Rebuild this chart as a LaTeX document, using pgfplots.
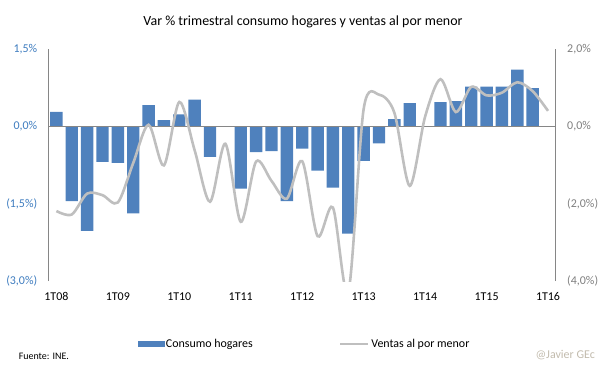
\documentclass[border=0pt]{standalone}
\usepackage{fontspec}
\setmainfont{Carlito}
\usepackage{pgfplots}
\usepackage{pgfplotstable}
\pgfplotsset{compat=1.18}
\definecolor{barblue}{HTML}{4F81BD}
\definecolor{linegray}{HTML}{BFBFBF}
\definecolor{axisgray}{HTML}{868686}
\definecolor{leftlbl}{HTML}{3E7CBF}
\definecolor{rightlbl}{HTML}{7F7F7F}
\definecolor{credit}{HTML}{C2BBAD}

\pgfplotstableread{
idx cons
0 0.28
1 -1.45
2 -2.03
3 -0.69
4 -0.71
5 -1.69
6 0.41
7 0.12
8 0.23
9 0.52
10 -0.59
11 0.00
12 -1.21
13 -0.50
14 -0.48
15 -1.45
16 -0.43
17 -0.86
18 -1.19
19 -2.08
20 -0.67
21 -0.33
22 0.14
23 0.45
24 0.00
25 0.47
26 0.49
27 0.77
28 0.77
29 0.77
30 1.10
31 0.74
}\constable

\pgfplotstableread{
idx ventas
0 -2.19
1 -2.28
2 -1.74
3 -1.78
4 -1.97
5 -0.95
6 0.04
7 -1.01
8 0.63
9 -0.62
10 -1.95
11 -0.45
12 -2.47
13 -0.91
14 -1.41
15 -1.87
16 -0.90
17 -2.84
18 -2.10
19 -4.30
20 0.45
21 0.82
22 0.35
23 -1.54
24 0.25
25 1.22
26 0.37
27 1.02
28 0.80
29 0.87
30 1.14
31 0.91
32 0.40
}\ventastable

\begin{document}
\begin{tikzpicture}[x=1bp,y=1bp]
\path[use as bounding box] (0,0) rectangle (605,378);
\begin{axis}[
  at={(48.7bp,97bp)}, anchor=south west,
  scale only axis, width=507bp, height=232bp,
  xmin=-0.5, xmax=32.5, ymin=-3, ymax=1.5,
  axis y line*=left, axis x line*=bottom,
  x axis line style={draw=none},
  y axis line style={draw=axisgray, line width=0.8bp},
  major tick length=0pt,
  ytick={-3,-1.5,0,1.5},
  yticklabels={{(3,0\%)},{(1,5\%)},{0,0\%},{1,5\%}},
  yticklabel style={text=leftlbl, font=\fontsize{12}{14}\selectfont, xshift=-8bp},
  xtick={0,4,...,32},
  xticklabels={1T08,1T09,1T10,1T11,1T12,1T13,1T14,1T15,1T16},
  xticklabel style={font=\fontsize{12}{14}\selectfont, yshift=-8bp},
  /pgf/number format/assume math mode=true,
  ybar, bar width=12.4bp,
]
\addplot[fill=barblue, draw=none] table[x=idx,y=cons]{\constable};
\draw[axisgray, line width=0.8bp] (axis cs:-0.5,0) -- (axis cs:32.5,0);
\end{axis}
\begin{axis}[
  at={(48.7bp,97bp)}, anchor=south west,
  scale only axis, width=507bp, height=232bp,
  xmin=-0.5, xmax=32.5, ymin=-4, ymax=2,
  axis y line*=right, hide x axis,
  y axis line style={draw=axisgray, line width=0.8bp},
  major tick length=0pt,
  ytick={-4,-2,0,2},
  yticklabels={{(4,0\%)},{(2,0\%)},{0,0\%},{2,0\%}},
  yticklabel style={text=rightlbl, font=\fontsize{12}{14}\selectfont, xshift=8bp},
  legend style={at={(0.5045,-0.2716)}, anchor=center, draw=none, fill=none,
    font=\fontsize{12}{14}\selectfont,
    /tikz/every even column/.append style={column sep=84bp}},
  legend columns=2, legend cell align=left,
]
\addlegendimage{legend image code/.code={\fill[barblue] (0bp,-2.5bp) rectangle (26bp,2.5bp);}}
\addlegendentry{Consumo hogares}
\addplot[linegray, line width=2.6bp, smooth, no markers,
  legend image code/.code={\draw[linegray, line width=2.6bp] (0bp,0bp) -- (28bp,0bp);}]
  table[x=idx,y=ventas]{\ventastable};
\addlegendentry{Ventas al por menor}
\end{axis}
\node[font=\fontsize{14}{16}\selectfont, inner sep=0pt] at (303,356) {Var \% trimestral consumo hogares y ventas al por menor};
\node[anchor=west, font=\fontsize{10}{12}\selectfont, inner sep=0pt] at (18.6,22) {Fuente: INE.};
\node[anchor=east, text=credit, font=\fontsize{12}{14}\selectfont, inner sep=0pt] at (595,23) {@Javier GEc};
\end{tikzpicture}
\end{document}
